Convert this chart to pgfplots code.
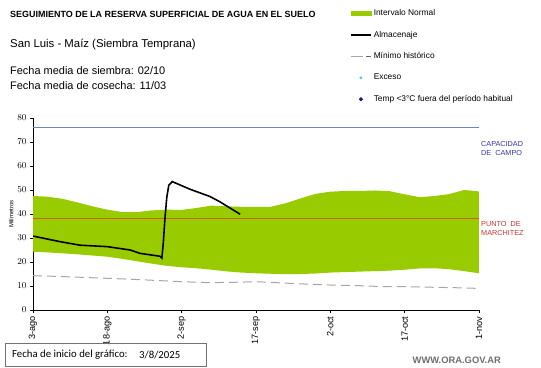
\documentclass[border=0pt]{standalone}
\usepackage{pgfplots}
\pgfplotsset{compat=1.18}
\usepgfplotslibrary{fillbetween}
\usepackage{fontspec}
\setmainfont{Liberation Sans}
\newfontfamily\calfont{Carlito}
\definecolor{normgreen}{RGB}{153,204,0}
\definecolor{capline}{RGB}{105,135,190}
\definecolor{pmline}{RGB}{204,102,0}
\definecolor{captext}{RGB}{51,51,170}
\definecolor{pmtext}{RGB}{204,51,51}
\definecolor{mingray}{RGB}{166,166,166}
\definecolor{exceso}{RGB}{75,200,215}
\definecolor{tempblue}{RGB}{20,20,150}
\definecolor{webgray}{RGB}{110,110,110}
\begin{document}
\begin{tikzpicture}
\begin{axis}[
  at={(33bp,58bp)}, anchor=south west,
  scale only axis, width=446bp, height=192bp,
  xmin=0, xmax=90, ymin=0, ymax=80,
  axis x line*=bottom, axis y line*=left,
  axis line style={black, line width=0.6pt},
  xtick={0,15,30,45,60,75,90},
  xticklabels={3-ago,18-ago,2-sep,17-sep,2-oct,17-oct,1-nov},
  xticklabel style={rotate=90, anchor=east, font=\fontsize{9.2}{10}\selectfont},
  ytick={0,10,...,80},
  yticklabel style={font=\fontsize{9.2}{10}\selectfont},
  tick align=outside, tick style={black, line width=0.6pt},
  major tick length=3bp,
  ylabel={Milímetros}, ylabel style={font=\fontsize{6}{7}\selectfont, yshift=-3bp},
  legend style={at={(0.704,1.587)}, anchor=north west, draw=none, fill=none,
    font=\fontsize{8.4}{9}\selectfont, row sep=10bp,
    cells={anchor=west}},
  legend cell align=left,
  clip=false,
]
\addplot[draw=none, name path=upper, forget plot] coordinates {
(0,47.5)(3,47.2)(6,46.3)(9,44.8)(12,43.2)(15,41.8)(18,40.8)(21,40.8)(24,41.5)(27,41.8)
(30,41.7)(33,42.5)(36,43.5)(39,43.2)(42,43.0)(45,43.0)(48,43.0)(51,44.5)(54,46.5)(57,48.4)
(60,49.3)(63,49.6)(66,49.6)(69,49.8)(72,49.5)(75,48.2)(78,47.0)(81,47.5)(84,48.3)(87,50.0)(90,49.4)};
\addplot[draw=none, name path=lower, forget plot] coordinates {
(0,24.3)(3,24.0)(6,23.6)(9,23.2)(12,22.7)(15,22.2)(18,21.3)(21,20.3)(24,19.3)(27,18.4)
(30,17.8)(33,17.4)(36,16.8)(39,16.1)(42,15.6)(45,15.3)(48,15.1)(51,14.9)(54,15.0)(57,15.2)
(60,15.6)(63,15.8)(66,16.0)(69,16.2)(72,16.4)(75,16.8)(78,17.3)(81,17.4)(84,17.0)(87,16.2)(90,15.3)};
\addplot[normgreen, draw=none, forget plot] fill between[of=upper and lower];
\addplot[capline, line width=0.8pt, forget plot] coordinates {(0,76)(90,76)};
\addplot[pmline, line width=1pt, forget plot] coordinates {(0,38)(90,38)};
\addplot[mingray, line width=1pt, dash pattern=on 9bp off 5bp, forget plot] coordinates {
(0,14.3)(5,14.0)(10,13.6)(15,13.2)(20,12.8)(25,12.3)(30,11.8)(35,11.4)(40,11.5)(45,11.8)
(50,11.3)(55,10.8)(60,10.4)(65,10.2)(70,9.8)(75,9.7)(80,9.5)(85,9.3)(90,9.0)};
\addplot[black, line width=1.6pt, forget plot] coordinates {
(0,30.8)(5.4,28.5)(9.5,27.0)(15,26.4)(19.6,25.0)(21.6,23.6)(25.6,22.4)(26.0,21.6)
(26.3,28)(26.6,37.5)(27.0,47)(27.4,52)(28.1,53.5)(31.7,50.3)(35.7,47.3)(37.7,45.1)(41.8,39.9)};
\addlegendimage{normgreen, legend image code/.code={\fill[normgreen] (0bp,-2bp) rectangle (20bp,2.5bp);}}
\addlegendentry{Intervalo Normal}
\addlegendimage{black, legend image code/.code={\draw[black,line width=1.6pt] (0bp,0bp) -- (20bp,0bp);}}
\addlegendentry{Almacenaje}
\addlegendimage{mingray, legend image code/.code={\draw[mingray,line width=1pt] (0bp,0bp) -- (12bp,0bp); \draw[black!60,line width=0.8pt] (15bp,0bp) -- (20bp,0bp);}}
\addlegendentry{Mínimo histórico}
\addlegendimage{exceso, legend image code/.code={\fill[exceso] (10bp,0bp) circle (1.3bp);}}
\addlegendentry{Exceso}
\addlegendimage{tempblue, legend image code/.code={\fill[tempblue] (10bp,1.8bp) -- (11.8bp,0bp) -- (10bp,-1.8bp) -- (8.2bp,0bp) -- cycle;}}
\addlegendentry{Temp <3°C fuera del período habitual}
\end{axis}
\node[anchor=west, inner sep=0pt, font=\bfseries\fontsize{9}{10}\selectfont] at (10bp,354bp) {SEGUIMIENTO DE LA RESERVA SUPERFICIAL DE AGUA EN EL SUELO};
\node[anchor=west, inner sep=0pt, font=\fontsize{11.4}{12}\selectfont] at (10bp,323bp) {San Luis - Maíz (Siembra Temprana)};
\node[anchor=west, inner sep=0pt, font=\fontsize{11}{12}\selectfont] at (10bp,297bp) {Fecha media de siembra: 02/10};
\node[anchor=west, inner sep=0pt, font=\fontsize{11}{12}\selectfont] at (10bp,282bp) {Fecha media de cosecha: 11/03};
\node[anchor=north west, inner sep=0pt, align=left, text=captext, font=\fontsize{7.3}{9.5}\selectfont] at (481bp,227bp) {CAPACIDAD\\DE~~CAMPO};
\node[anchor=north west, inner sep=0pt, align=left, text=pmtext, font=\fontsize{7.3}{9.5}\selectfont] at (481bp,147bp) {PUNTO~~DE\\MARCHITEZ};
\draw[black!55, line width=0.6pt] (5bp,2bp) rectangle (206bp,25bp);
\node[anchor=west, inner sep=0pt, font=\calfont\fontsize{10.8}{12}\selectfont] at (12bp,13.5bp) {Fecha de inicio del gráfico:};
\node[anchor=west, inner sep=0pt, font=\calfont\fontsize{10.8}{12}\selectfont] at (139bp,13.5bp) {3/8/2025};
\node[anchor=east, inner sep=0pt, text=webgray, font=\bfseries\fontsize{9.4}{10}\selectfont] at (501bp,8bp) {WWW.ORA.GOV.AR};
\pgfresetboundingbox
\path[use as bounding box] (0bp,0bp) rectangle (541bp,368bp);
\end{tikzpicture}
\end{document}
